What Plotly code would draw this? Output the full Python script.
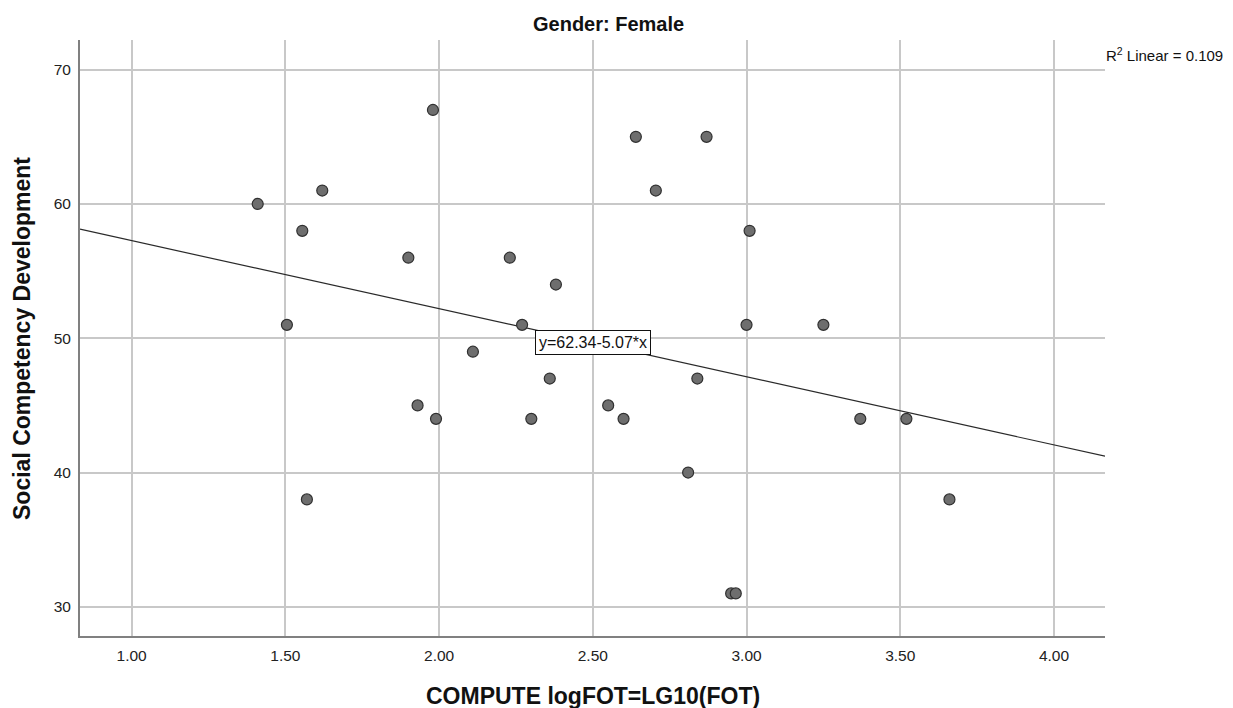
import plotly.graph_objects as go

# ---- data ----
log_fot = [1.41, 1.505, 1.555, 1.57, 1.62, 1.90, 1.93, 1.98, 1.99, 2.11,
           2.23, 2.27, 2.30, 2.36, 2.38, 2.55, 2.60, 2.64, 2.705, 2.81,
           2.84, 2.87, 2.95, 2.965, 3.00, 3.01, 3.25, 3.37, 3.52, 3.66]
social_comp = [60, 51, 58, 38, 61, 56, 45, 67, 44, 49,
               56, 51, 44, 47, 54, 45, 44, 65, 61, 40,
               47, 65, 31, 31, 51, 58, 51, 44, 44, 38]
intercept = 62.34
slope = -5.07
r2_text = "R<sup>2</sup> Linear = 0.109"
eq_text = "y=62.34-5.07*x"
x_ticks = [1.0, 1.5, 2.0, 2.5, 3.0, 3.5, 4.0]
x_ticklabels = ["1.00", "1.50", "2.00", "2.50", "3.00", "3.50", "4.00"]
y_ticks = [30, 40, 50, 60, 70]
x_range = [0.832, 4.166]
y_range = [27.83, 72.21]

FONT = "Arial, Liberation Sans, Helvetica, sans-serif"

fig = go.Figure()

fit_x = [x_range[0], x_range[1]]
fit_y = [intercept + slope * v for v in fit_x]
fig.add_trace(go.Scatter(x=fit_x, y=fit_y, mode="lines",
                         line=dict(color="#2a2a2a", width=1.2),
                         hoverinfo="skip", showlegend=False))

fig.add_trace(go.Scatter(x=log_fot, y=social_comp, mode="markers",
                         marker=dict(size=11, color="#6e6e6e",
                                     line=dict(color="#303030", width=1.2)),
                         showlegend=False))

eq_x = 2.5
fig.add_annotation(x=eq_x, y=intercept + slope * eq_x, xref="x", yref="y",
                   text=eq_text, showarrow=False,
                   font=dict(family=FONT, size=16, color="#111"),
                   bgcolor="white", bordercolor="#111", borderwidth=1,
                   borderpad=3)

fig.add_annotation(x=0.516, y=1.027, xref="paper", yref="paper",
                   text="<b>Gender: Female</b>", showarrow=False,
                   xanchor="center", yanchor="middle",
                   font=dict(family=FONT, size=20, color="#111"))

fig.add_annotation(x=0.999, y=0.975, xref="paper", yref="paper",
                   text=r2_text, showarrow=False,
                   xanchor="left", yanchor="middle",
                   font=dict(family=FONT, size=15, color="#111"))

fig.add_annotation(x=0.5, y=-0.1007, xref="paper", yref="paper",
                   text="<b>COMPUTE logFOT=LG10(FOT)</b>", showarrow=False,
                   xanchor="center", yanchor="middle",
                   font=dict(family=FONT, size=23, color="#111"))

fig.add_annotation(x=-0.0566, y=0.5, xref="paper", yref="paper",
                   text="<b>Social Competency Development</b>", showarrow=False,
                   textangle=-90, xanchor="center", yanchor="middle",
                   font=dict(family=FONT, size=23, color="#111"))

fig.update_xaxes(range=x_range, tickvals=x_ticks, ticktext=x_ticklabels,
                 showgrid=True, gridcolor="#c8c8c8", gridwidth=1.5,
                 zeroline=False, showline=True, linecolor="#808080",
                 linewidth=2, ticks="outside", ticklen=4, tickcolor="rgba(0,0,0,0)",
                 tickfont=dict(family=FONT, size=15.5, color="#222"))
fig.update_yaxes(range=y_range, tickvals=y_ticks,
                 showgrid=True, gridcolor="#c8c8c8", gridwidth=1.5,
                 zeroline=False, showline=True, linecolor="#808080",
                 linewidth=2, ticks="outside", ticklen=4, tickcolor="rgba(0,0,0,0)",
                 tickfont=dict(family=FONT, size=15.5, color="#222"))

# the page places the figure 8px from the top-left corner of the window
fig.update_layout(width=1225, height=700,
                  margin=dict(l=72, r=128, t=32, b=72),
                  paper_bgcolor="white", plot_bgcolor="white",
                  font=dict(family=FONT))

fig.write_html("out.html")
